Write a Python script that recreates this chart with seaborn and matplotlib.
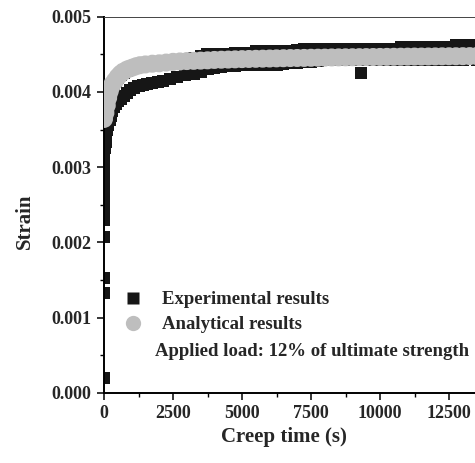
import matplotlib
matplotlib.use("Agg")
import matplotlib.pyplot as plt
from matplotlib.lines import Line2D
from matplotlib.ticker import MultipleLocator, FormatStrFormatter
import pandas as pd
import seaborn as sns

# ---- Experimental creep readings (time in s, strain) ----
# Each time step has a high and a low reading of the measured band.
exp_time = [0, 30, 60, 90, 120, 160, 200, 250, 300, 360,
            430, 520, 620, 720, 830, 950, 1100, 1250, 1400, 1560,
            1750, 1950, 2150, 2400, 2640, 2950, 3250, 3500, 3750, 4000,
            4250, 4500, 4750, 5000, 5250, 5500, 5750, 6000, 6250, 6500,
            6750, 7000, 7250, 7500, 7750, 8000, 8250, 8500, 8750, 9000,
            9250, 9500, 9750, 10000, 10250, 10500, 10750, 11000, 11250, 11500,
            11750, 12000, 12250, 12500, 12750, 13000, 13250, 13500, 13750]

exp_strain_low = [0.00314, 0.00326, 0.00334, 0.00342, 0.00349, 0.00356, 0.00362, 0.00368, 0.00374, 0.00380,
                  0.00384, 0.00388, 0.00391, 0.00395, 0.00399, 0.00402, 0.00405, 0.004075, 0.00409, 0.00410,
                  0.004115, 0.00413, 0.00415, 0.00417, 0.00420, 0.00422, 0.00424, 0.00427, 0.00430, 0.00432,
                  0.00433, 0.00434, 0.00435, 0.004355, 0.00436, 0.00436, 0.00436, 0.00436, 0.00436, 0.004365,
                  0.00438, 0.00439, 0.00440, 0.00440, 0.00441, 0.00442, 0.004425, 0.004425, 0.00442, 0.004425,
                  0.004425, 0.00442, 0.004425, 0.004425, 0.004425, 0.00442, 0.004425, 0.004425, 0.00443, 0.004425,
                  0.004425, 0.00443, 0.00443, 0.004425, 0.00443, 0.00443, 0.004435, 0.00443, 0.004435]

exp_strain_high = [0.00314, 0.00330, 0.00345, 0.00360, 0.00372, 0.00385, 0.00395, 0.00403, 0.00408, 0.00411,
                   0.00414, 0.00418, 0.00422, 0.00425, 0.00428, 0.00430, 0.00432, 0.00434, 0.00435, 0.00436,
                   0.00437, 0.00438, 0.004385, 0.00439, 0.00440, 0.00442, 0.00445, 0.00448, 0.00450, 0.00450,
                   0.00450, 0.00451, 0.00452, 0.00452, 0.00452, 0.00455, 0.00455, 0.00455, 0.00455, 0.00455,
                   0.00455, 0.004555, 0.004575, 0.004575, 0.004575, 0.004575, 0.004575, 0.004575, 0.004575, 0.004575,
                   0.004575, 0.004575, 0.004575, 0.004575, 0.004575, 0.004575, 0.004595, 0.004595, 0.004595, 0.004595,
                   0.004595, 0.004595, 0.004595, 0.004595, 0.00462, 0.00462, 0.00462, 0.00462, 0.00462]

# Readings during loading and one stray reading
single_time = [0, 0, 0, 0, 0, 0, 0, 0, 0, 0, 9300]
single_strain = [0.00019, 0.00133, 0.00153, 0.00207, 0.00230, 0.00244,
                 0.00258, 0.00272, 0.00286, 0.00300, 0.00425]

# ---- Analytical prediction ----
ana_time = [0, 50, 100, 150, 200, 250, 300, 400, 500, 600,
            700, 850, 1000, 1150, 1300, 1500, 1750,
            2000, 2250, 2500, 2750, 3000, 3250, 3500, 3750, 4000, 4250,
            4500, 4750, 5000, 5250, 5500, 5750, 6000, 6250, 6500, 6750,
            7000, 7250, 7500, 7750, 8000, 8250, 8500, 8750, 9000, 9250,
            9500, 9750, 10000, 10250, 10500, 10750, 11000, 11250, 11500, 11750,
            12000, 12250, 12500, 12750, 13000, 13250, 13500, 13750]
ana_strain = [0.00364, 0.00372, 0.00382, 0.00392, 0.00400, 0.00406, 0.00410, 0.00415, 0.00420, 0.00424,
              0.00427, 0.00430, 0.00432, 0.00434, 0.004355, 0.004365, 0.004375,
              0.00438, 0.00439, 0.00440, 0.004405, 0.00441, 0.004413, 0.004416, 0.00442, 0.004425, 0.004428,
              0.00443, 0.004433, 0.004436, 0.004438, 0.00444, 0.004442, 0.004444, 0.004446, 0.004448, 0.00445,
              0.004451, 0.004452, 0.004454, 0.004455, 0.004456, 0.004458, 0.004459, 0.00446, 0.004461, 0.004462,
              0.004463, 0.004464, 0.004465, 0.004466, 0.004467, 0.004468, 0.004469, 0.00447, 0.00447, 0.004471,
              0.004472, 0.004473, 0.004474, 0.004474, 0.004475, 0.004476, 0.004477, 0.004478]

x_ticks = [0, 2500, 5000, 7500, 10000, 12500]
legend_labels = ["Experimental results", "Analytical results"]
note_text = "Applied load: 12% of ultimate strength"

BLACK = "#161616"
GREY = "#bebebe"

sns.set_style("ticks")
plt.rcParams["font.family"] = ["Liberation Serif", "DejaVu Serif"]
plt.rcParams["font.weight"] = "bold"
plt.rcParams["axes.labelweight"] = "bold"

W, H = 475, 463
fig = plt.figure(figsize=(W / 100, H / 100), dpi=100)
ax = fig.add_axes([104 / W, (H - 392.7) / H, 414 / W, 376 / H])

exp_df = pd.DataFrame({"time": exp_time + exp_time,
                       "strain": exp_strain_high + exp_strain_low})
single_df = pd.DataFrame({"time": single_time, "strain": single_strain})
ana_df = pd.DataFrame({"time": ana_time, "strain": ana_strain})

sns.scatterplot(data=exp_df, x="time", y="strain", marker="s", s=75,
                color=BLACK, edgecolor="none", linewidth=0, ax=ax,
                legend=False, zorder=2)
sns.scatterplot(data=single_df, x="time", y="strain", marker="s", s=75,
                color=BLACK, edgecolor="none", linewidth=0, ax=ax,
                legend=False, zorder=2)
sns.scatterplot(data=ana_df, x="time", y="strain", marker="o", s=168,
                color=GREY, edgecolor="none", linewidth=0, ax=ax,
                legend=False, zorder=3)

ax.set_xlim(0, 15000)
ax.set_ylim(0, 0.005)
ax.set_xticks(x_ticks)
ax.xaxis.set_minor_locator(MultipleLocator(1250))
ax.yaxis.set_major_locator(MultipleLocator(0.001))
ax.yaxis.set_minor_locator(MultipleLocator(0.0005))
ax.yaxis.set_major_formatter(FormatStrFormatter("%.3f"))

ax.tick_params(which="major", direction="out", length=5, width=1.1,
               labelsize=13, pad=4, color="black")
ax.tick_params(which="minor", direction="out", length=3, width=1.0,
               color="black")
ax.tick_params(top=False, right=False, which="both")

for side in ("left", "bottom"):
    ax.spines[side].set_linewidth(1.4)
    ax.spines[side].set_color("black")
ax.spines["top"].set_linewidth(0.7)
ax.spines["top"].set_color("#444444")
ax.spines["right"].set_visible(False)

ax.set_xlabel("Creep time (s)", fontsize=15, fontweight="bold")
ax.set_ylabel("Strain", fontsize=15, fontweight="bold")
ax.xaxis.set_label_coords((283.5 - 104) / 414, (392.7 - 437) / 376)
ax.xaxis.label.set_va("center")
ax.yaxis.set_label_coords((25 - 104) / 414, (392.7 - 221) / 376)
ax.yaxis.label.set_va("center")

handles = [
    Line2D([], [], marker="s", linestyle="none", markersize=8.6,
           markerfacecolor=BLACK, markeredgecolor="none"),
    Line2D([], [], marker="o", linestyle="none", markersize=11,
           markerfacecolor=GREY, markeredgecolor="none"),
]
ax.legend(handles, legend_labels, loc="upper left",
          bbox_to_anchor=(124 / W, 1 - 291 / H), bbox_transform=fig.transFigure,
          frameon=False, fontsize=13.5, handlelength=1.0, handletextpad=1.0,
          borderpad=0, borderaxespad=0, labelspacing=0.42)

fig.text(155 / W, 1 - 351 / H, note_text, fontsize=13.5, fontweight="bold",
         ha="left", va="center")

fig.savefig("out.png", dpi=100)
